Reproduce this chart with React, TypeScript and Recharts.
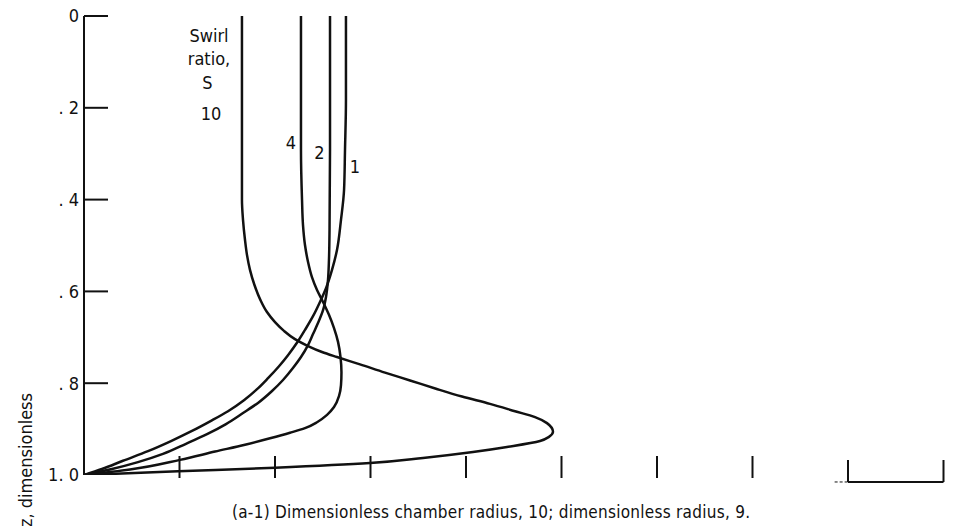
import React from "react";
import { LineChart, Line, XAxis, YAxis, ReferenceLine } from "recharts";

// Swirl ratio 10
const s10X = [1.654, 1.654, 1.654, 1.665, 1.686, 1.707, 1.738, 1.785, 1.848, 1.916, 2.0, 2.094, 2.209, 2.346, 2.492, 2.649, 2.89, 3.152, 3.414, 3.686, 3.958, 4.251, 4.513, 4.723, 4.848, 4.911, 4.869, 4.775, 4.429, 4.073, 3.55, 2.995, 2.0, 0.984, 0];
const s10Y = [0, 0.292, 0.401, 0.444, 0.488, 0.521, 0.553, 0.586, 0.619, 0.645, 0.667, 0.686, 0.704, 0.719, 0.732, 0.743, 0.759, 0.777, 0.794, 0.812, 0.829, 0.845, 0.861, 0.874, 0.887, 0.906, 0.917, 0.926, 0.939, 0.95, 0.963, 0.974, 0.984, 0.992, 1.0];
// Swirl ratio 4
const s4X = [2.272, 2.272, 2.283, 2.293, 2.314, 2.346, 2.387, 2.44, 2.503, 2.565, 2.618, 2.66, 2.686, 2.696, 2.691, 2.67, 2.618, 2.545, 2.44, 2.314, 2.157, 1.948, 1.686, 1.372, 1.005, 0.482, 0];
const s4Y = [0, 0.292, 0.401, 0.455, 0.499, 0.536, 0.569, 0.597, 0.623, 0.651, 0.68, 0.71, 0.743, 0.776, 0.804, 0.828, 0.852, 0.869, 0.885, 0.898, 0.908, 0.92, 0.934, 0.949, 0.967, 0.988, 1.0];
// Swirl ratio 2
const s2X = [2.576, 2.576, 2.571, 2.565, 2.555, 2.534, 2.503, 2.45, 2.398, 2.346, 2.272, 2.188, 2.084, 1.969, 1.822, 1.665, 1.487, 1.288, 1.068, 0.827, 0.565, 0.293, 0];
const s2Y = [0, 0.292, 0.466, 0.532, 0.575, 0.612, 0.641, 0.669, 0.693, 0.717, 0.743, 0.767, 0.793, 0.817, 0.843, 0.865, 0.889, 0.911, 0.932, 0.954, 0.972, 0.987, 1.0];
// Swirl ratio 1
const s1X = [2.743, 2.743, 2.733, 2.723, 2.691, 2.649, 2.597, 2.534, 2.471, 2.398, 2.314, 2.23, 2.136, 2.042, 1.927, 1.812, 1.675, 1.508, 1.33, 1.131, 0.911, 0.67, 0.408, 0.188, 0];
const s1Y = [0, 0.183, 0.292, 0.379, 0.444, 0.51, 0.553, 0.593, 0.623, 0.654, 0.684, 0.712, 0.739, 0.763, 0.789, 0.813, 0.837, 0.861, 0.882, 0.904, 0.926, 0.948, 0.969, 0.987, 1.0];

const yTicks = [0, 0.2, 0.4, 0.6, 0.8, 1.0];
const yTickLabels = ["0", ". 2", ". 4", ". 6", ". 8", "1. 0"];
const xTicks = [1, 2, 3, 4, 5, 6, 7, 8, 9];

const swirlLabels = ["Swirl", "ratio,", "S", "10"];
const curveLabels = ["4", "2", "1"];
const caption = "(a-1) Dimensionless chamber radius, 10; dimensionless radius, 9.";
const yTitle = "z, dimensionless";

const FONT = "'DejaVu Sans Condensed', 'Liberation Sans Narrow', 'DejaVu Sans', sans-serif";

const toPts = (xs: number[], ys: number[]) => xs.map((x, i) => ({ x, y: ys[i] }));
const series = [
  { name: "10", data: toPts(s10X, s10Y) },
  { name: "4", data: toPts(s4X, s4Y) },
  { name: "2", data: toPts(s2X, s2Y) },
  { name: "1", data: toPts(s1X, s1Y) },
];

const YTick = (props: any) => {
  const { x, y, payload, index } = props;
  return (
    <g>
      <text x={x - 5} y={y} dy="0.36em" textAnchor="end" fontSize={18} fontFamily={FONT} fill="#111">
        {yTickLabels[index]}
      </text>
      {payload.value < 1 && <line x1={x} x2={x + 24} y1={y} y2={y} stroke="#111" strokeWidth={2} />}
    </g>
  );
};

const XTick = (props: any) => {
  const { x, y, payload } = props;
  const bracket = payload.value >= 8;
  return (
    <line x1={x} x2={x} y1={bracket ? y - 15 : y - 19} y2={bracket ? y + 7 : y + 3} stroke="#111" strokeWidth={2} />
  );
};

export default function App() {
  return (
    <div style={{ position: "relative", width: 957, height: 526, margin: "-8px 0 0 -8px" }}>
      <LineChart width={957} height={526} margin={{ top: 16, right: 13.5, left: 44, bottom: 21 }}>
        <XAxis
          dataKey="x"
          type="number"
          domain={[0, 9]}
          ticks={xTicks}
          interval={0}
          axisLine={false}
          tickLine={false}
          tickSize={0}
          tickMargin={0}
          height={30}
          tick={<XTick />}
          allowDataOverflow
        />
        <YAxis
          type="number"
          domain={[0, 1]}
          reversed
          ticks={yTicks}
          interval={0}
          width={40}
          axisLine={{ stroke: "#111", strokeWidth: 2 }}
          tickLine={false}
          tickSize={0}
          tickMargin={0}
          tick={<YTick />}
          allowDataOverflow
        />
        <ReferenceLine
          segment={[{ x: 8, y: 1.0152 }, { x: 9, y: 1.0152 }]}
          stroke="#111"
          strokeWidth={2}
          ifOverflow="visible"
        />
        <ReferenceLine
          segment={[{ x: 7.86, y: 1.0152 }, { x: 8, y: 1.0152 }]}
          stroke="#111"
          strokeWidth={1}
          strokeDasharray="3 2"
          ifOverflow="visible"
        />
        {series.map((s) => (
          <Line
            key={s.name}
            data={s.data}
            dataKey="y"
            type="monotoneY"
            stroke="#111"
            strokeWidth={2.5}
            dot={false}
            activeDot={false}
            isAnimationActive={false}
          />
        ))}
      </LineChart>
      <svg
        width={957}
        height={526}
        style={{ position: "absolute", left: 0, top: 0, pointerEvents: "none" }}
        fontFamily={FONT}
        fill="#111"
      >
        <text x={209} y={35} dominantBaseline="central" textAnchor="middle" fontSize={18}>{swirlLabels[0]}</text>
        <text x={209} y={58} dominantBaseline="central" textAnchor="middle" fontSize={18}>{swirlLabels[1]}</text>
        <text x={207.5} y={82} dominantBaseline="central" textAnchor="middle" fontSize={18}>{swirlLabels[2]}</text>
        <text x={211} y={113} dominantBaseline="central" textAnchor="middle" fontSize={18}>{swirlLabels[3]}</text>
        <text x={291} y={142} dominantBaseline="central" textAnchor="middle" fontSize={18}>{curveLabels[0]}</text>
        <text x={319.5} y={152} dominantBaseline="central" textAnchor="middle" fontSize={18}>{curveLabels[1]}</text>
        <text x={355} y={166} dominantBaseline="central" textAnchor="middle" fontSize={18}>{curveLabels[2]}</text>
        <text x={491} y={512} dominantBaseline="central" textAnchor="middle" fontSize={17} textLength={518}>{caption}</text>
        <text x={25} y={393} transform="rotate(-90 25 393)" dominantBaseline="central" textAnchor="end" fontSize={18}>{yTitle}</text>
      </svg>
    </div>
  );
}
